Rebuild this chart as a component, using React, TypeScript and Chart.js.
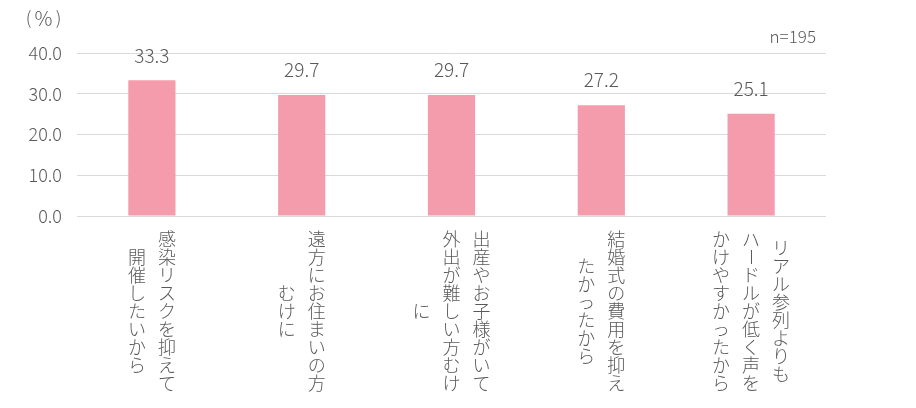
import { useEffect, useRef } from 'react';
import { Chart, registerables } from 'chart.js';

Chart.register(...registerables);

// 回答カテゴリ(縦書きの列ごと)
const categories: string[][] = [
  ['感染リスクを抑えて', '開催したいから'],
  ['遠方にお住まいの方', 'むけに'],
  ['出産やお子様がいて', '外出が難しい方むけ', 'に'],
  ['結婚式の費用を抑え', 'たかったから'],
  ['リアル参列よりも', 'ハードルが低く声を', 'かけやすかったから'],
];
const values = [33.3, 29.7, 29.7, 27.2, 25.1];
const yTicks = [0, 10, 20, 30, 40];
const sampleLabel = 'n=195';

const FONT = '"Noto Sans CJK JP", "Noto Sans", sans-serif';
const TEXT = '#595959';

const labelsPlugin = {
  id: 'customLabels',
  afterDraw(chart: any) {
    const ctx = chart.ctx;
    const area = chart.chartArea;
    const xs = chart.scales.x;
    ctx.save();
    ctx.fillStyle = TEXT;

    // 値ラベル
    ctx.font = `300 19px ${FONT}`;
    ctx.textAlign = 'center';
    ctx.textBaseline = 'middle';
    chart.getDatasetMeta(0).data.forEach((bar: any, i: number) => {
      ctx.fillText(values[i].toFixed(1), bar.x, bar.y - 25);
    });

    // (%)
    ctx.font = `300 18px ${FONT}`;
    ctx.fillText('(', 28.5, 18);
    ctx.fillText(')', 58.5, 18);
    ctx.font = `300 20px ${FONT}`;
    ctx.fillText('%', 43.5, 18);

    // n=
    ctx.textAlign = 'right';
    ctx.font = `300 17px ${FONT}`;
    ctx.fillText(sampleLabel, area.right - 10, 37);

    // 縦書きのカテゴリ
    ctx.font = `300 18px ${FONT}`;
    ctx.textAlign = 'center';
    const pitch = 18;
    const colGap = 30;
    const midY = area.bottom + 95;
    categories.forEach((cols, i) => {
      const cx = xs.getPixelForValue(i);
      cols.forEach((col, j) => {
        const x = cx + ((cols.length - 1) / 2 - j) * colGap;
        const chars = Array.from(col);
        const y0 = midY - (chars.length * pitch) / 2 + pitch / 2;
        chars.forEach((ch, k) => {
          const y = y0 + k * pitch;
          if (ch === 'ー') {
            ctx.save();
            ctx.translate(x, y);
            ctx.rotate(Math.PI / 2);
            ctx.fillText(ch, 0, 0);
            ctx.restore();
          } else {
            ctx.fillText(ch, x, y);
          }
        });
      });
    });
    ctx.restore();
  },
};

const App = () => {
  const canvasRef = useRef<HTMLCanvasElement | null>(null);

  useEffect(() => {
    document.body.style.margin = '0';
    if (!canvasRef.current) return;
    const ctx = canvasRef.current.getContext('2d');
    if (!ctx) return;

    const chart = new Chart(ctx, {
      type: 'bar',
      data: {
        labels: categories.map((c) => c.join('')),
        datasets: [
          {
            data: values,
            backgroundColor: '#F49CAB',
            categoryPercentage: 1,
            barPercentage: 0.315,
          },
        ],
      },
      options: {
        animation: false,
        responsive: false,
        layout: { padding: { left: 0, right: 90, top: 53, bottom: 0 } },
        plugins: {
          legend: { display: false },
          tooltip: { enabled: false },
        },
        scales: {
          x: {
            grid: { display: false },
            border: { display: false },
            ticks: { display: false },
            afterFit: (scale: any) => {
              scale.height = 408 - 216;
            },
          },
          y: {
            min: yTicks[0],
            max: yTicks[yTicks.length - 1],
            grid: { color: '#D9D9D9', lineWidth: 1, drawTicks: false },
            border: { display: false },
            afterBuildTicks: (scale: any) => {
              scale.ticks = yTicks.map((v) => ({ value: v }));
            },
            ticks: {
              padding: 15,
              color: TEXT,
              font: { family: FONT, size: 18, weight: 300 },
              callback: (v: any) => Number(v).toFixed(1),
            },
            afterFit: (scale: any) => {
              scale.width = 77;
            },
          },
        },
      },
      plugins: [labelsPlugin],
    });

    return () => chart.destroy();
  }, []);

  return (
    <div style={{ width: 916, height: 408, background: '#fff' }}>
      <canvas ref={canvasRef} width={916} height={408}></canvas>
    </div>
  );
};

export default App;
